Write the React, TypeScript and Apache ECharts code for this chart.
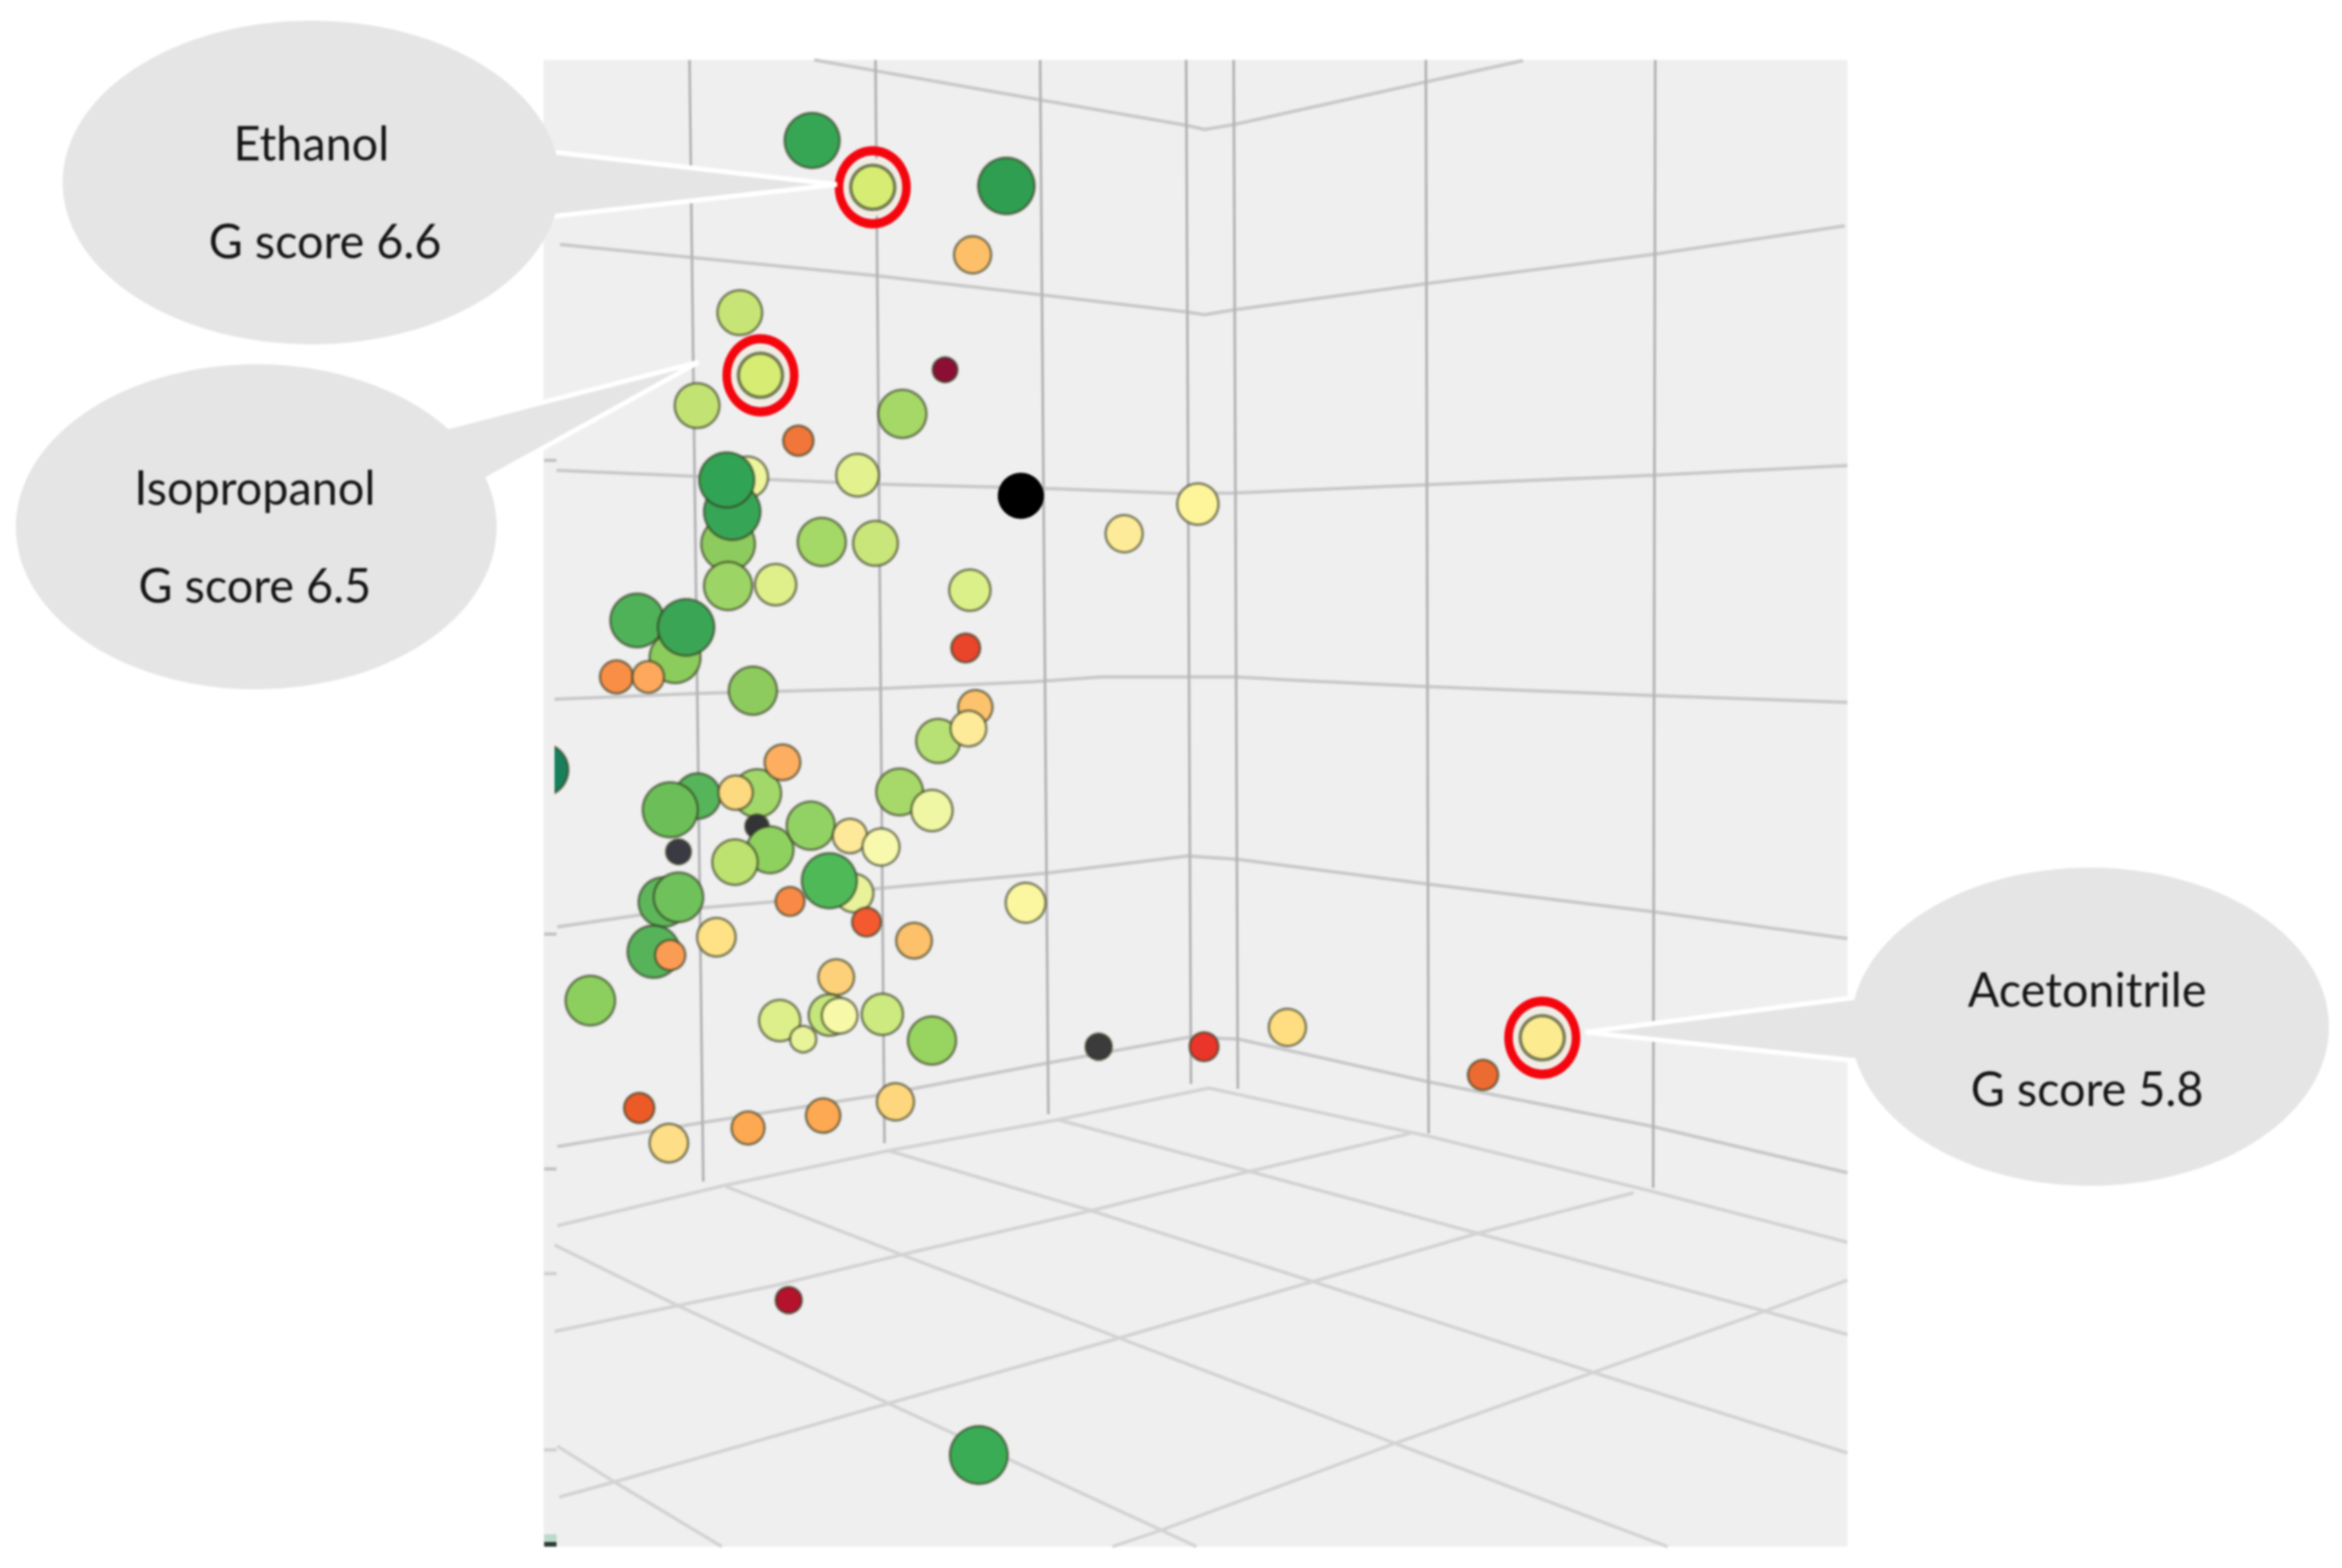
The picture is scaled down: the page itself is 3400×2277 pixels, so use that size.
import React, { useEffect, useRef } from "react";
import * as echarts from "echarts";

// Axis ranges (the picture has no printed scale, so readings are in picture units)
const xRange = [789, 2682];
const yRange = [87, 2246];

// Compounds, back to front
const pointX = [787, 1179, 1461, 1412, 1074, 1372, 1012, 1310, 1159, 1245, 1085, 1057, 1063, 1055, 1057, 1126, 1193, 1271, 1482, 1632, 1739, 1408, 980, 925, 996, 895, 941, 1402, 1093, 1416, 1362, 1406, 1013, 973, 1099, 1068, 1136, 1099, 985, 1118, 1067, 1177, 1234, 1279, 1306, 1353, 1240, 1204, 1258, 1147, 1489, 963, 985, 949, 973, 1040, 1327, 1214, 1132, 1204, 1166, 1219, 1281, 1353, 857, 1595, 1748, 928, 971, 1086, 1195, 1300, 1145, 1421, 1869, 2153];
const pointY = [1118, 204, 270, 370, 454, 537, 589, 601, 640, 690, 693, 790, 743, 697, 851, 849, 787, 789, 720, 775, 732, 857, 955, 901, 911, 983, 983, 941, 1003, 1027, 1076, 1058, 1156, 1176, 1152, 1151, 1107, 1200, 1237, 1234, 1252, 1199, 1214, 1230, 1150, 1177, 1297, 1279, 1339, 1309, 1311, 1310, 1303, 1382, 1387, 1361, 1366, 1419, 1482, 1474, 1509, 1475, 1473, 1511, 1453, 1520, 1520, 1609, 1660, 1638, 1620, 1600, 1888, 2113, 1492, 1561];
const pointSize = [76, 80, 82, 54, 65, 36, 65, 70, 44, 62, 60, 78, 82, 80, 70, 60, 70, 65, 63, 54, 60, 60, 74, 78, 82, 48, 46, 42, 70, 50, 64, 52, 66, 80, 70, 50, 52, 34, 36, 68, 66, 70, 50, 54, 68, 60, 56, 80, 42, 42, 58, 72, 72, 76, 44, 56, 52, 52, 60, 60, 38, 52, 60, 70, 72, 38, 42, 44, 56, 48, 50, 54, 38, 84, 54, 44];
const pointColor = ["#17805a", "#36a654", "#2f9e50", "#fdc068", "#c7e576", "#8b0f35", "#c2e373", "#a5d867", "#f0763a", "#e3f28f", "#eef59d", "#8ecb5e", "#37a556", "#31a354", "#9cd466", "#dff08a", "#a4d867", "#c9e67a", "#000000", "#fdeb99", "#fef59b", "#dcf08a", "#8bcc5c", "#4fb258", "#3aa555", "#f98e47", "#fda85c", "#e8452b", "#8ecb5e", "#fdc26e", "#b7e075", "#fdeb99", "#56b45a", "#6cbf58", "#a2d86a", "#fdd97f", "#fdae61", "#333338", "#3a3a45", "#8ed15f", "#bde26f", "#92d264", "#fee99a", "#f8f9ad", "#a6d96a", "#f0f7a4", "#e8f29a", "#4fb958", "#f4592f", "#f98a45", "#fbf7a0", "#5db75a", "#6fc15b", "#56b35a", "#fb9c55", "#fee285", "#fdc06b", "#fdd17a", "#dcef8a", "#c5e67d", "#e9f49a", "#f7f8a8", "#ccea80", "#98d460", "#8ccf5f", "#3b3b3b", "#e9352a", "#ec5a28", "#fede86", "#fda852", "#fda852", "#fdd67e", "#b5122d", "#3aac55", "#fede80", "#ec6b30"];

// The three circled solvents
const solventNames = ["Ethanol", "Isopropanol", "Acetonitrile"];
const solventScores = ["G score 6.6", "G score 6.5", "G score 5.8"];
const solventX = [1267, 1104, 2239];
const solventY = [272, 545, 1507];
const solventColor = ["#d6ec72", "#d6ec72", "#fdeb90"];

// Back-wall grid: verticals
const wallV1 = [[1001, 87], [1021, 1716]];
const wallV2 = [[1271, 87], [1284, 1660]];
const wallV3 = [[1510, 87], [1522, 1618]];
const wallV4 = [[1722, 87], [1729, 1574]];
const wallV5 = [[1791, 87], [1797, 1581]];
const wallV6 = [[2070, 87], [2074, 1646]];
const wallV7 = [[2403, 87], [2400, 1725]];

// Back-wall grid: horizontals that bend at the corner
const wallH1 = [[1182, 87], [1510, 145], [1722, 182], [1749, 188], [1791, 181], [2070, 119], [2211, 88]];
const wallH2 = [[813, 355], [1269, 400], [1510, 428], [1722, 453], [1749, 457], [1791, 450], [2070, 412], [2403, 369], [2678, 328]];
const wallH3 = [[808, 683], [1271, 703], [1510, 709], [1722, 717], [1791, 716], [2070, 704], [2403, 690], [2682, 676]];
const wallH4 = [[790, 1016], [1013, 1007], [1277, 1000], [1500, 990], [1600, 983], [1722, 983], [1795, 983], [1883, 988], [2070, 997], [2399, 1010], [2682, 1020]];
const wallH5 = [[809, 1346], [927, 1329], [1022, 1318], [1118, 1310], [1277, 1290], [1519, 1268], [1724, 1243], [1798, 1248], [2074, 1284], [2400, 1324], [2682, 1363]];
const wallH6 = [[809, 1665], [1021, 1630], [1284, 1589], [1519, 1544], [1727, 1506], [1798, 1509], [2074, 1571], [2400, 1636], [2682, 1703]];

// Floor grid
const floorEdgeL = [[809, 1780], [1045, 1723], [1290, 1671], [1536, 1626], [1755, 1580]];
const floorEdgeR = [[1755, 1580], [2074, 1650], [2394, 1729], [2682, 1804]];
const floorR1 = [[793, 1936], [984, 1896], [1124, 1867], [1309, 1822], [1584, 1758], [1814, 1701], [2047, 1646]];
const floorR2 = [[812, 2174], [892, 2152], [1290, 2038], [1625, 1943], [1906, 1861], [2145, 1791], [2372, 1732]];
const floorR3 = [[1615, 2246], [1686, 2222], [2025, 2096], [2313, 1993], [2562, 1904], [2682, 1859]];
const floorF1 = [[1536, 1626], [1814, 1701], [2145, 1791], [2562, 1904], [2682, 1938]];
const floorF2 = [[1290, 1671], [1584, 1758], [1906, 1861], [2313, 1993], [2682, 2110]];
const floorF3 = [[1054, 1723], [1309, 1822], [1625, 1943], [2025, 2096], [2421, 2246]];
const floorF4 = [[793, 1802], [984, 1896], [1290, 2038], [1686, 2222], [1737, 2246]];
const floorF5 = [[809, 2100], [892, 2152], [1048, 2246]];

const wallVerticals = [wallV1, wallV2, wallV3, wallV4, wallV5, wallV6, wallV7];
const wallHorizontals = [wallH1, wallH2, wallH3, wallH4, wallH5, wallH6];
const floorLines = [floorEdgeL, floorEdgeR, floorR1, floorR2, floorR3, floorF1, floorF2, floorF3, floorF4, floorF5];

const lineSeries = (data: number[][], color: string, width: number) => ({
  type: "line",
  data,
  symbol: "none",
  silent: true,
  z: 1,
  clip: false,
  lineStyle: { color, width },
});

const callout = (cx: number, cy: number, rx: number, ry: number, tail: number[][]) => [
  { type: "polygon", z: 30, shape: { points: tail }, style: { fill: "#e5e5e6", stroke: "#ffffff", lineWidth: 7 } },
  { type: "ellipse", z: 31, shape: { cx, cy, rx, ry }, style: { fill: "#e5e5e6" } },
];

const label = (text: string, x: number, y: number) => ({
  type: "text",
  z: 32,
  x,
  y,
  scaleX: 0.97,
  style: {
    text,
    x: 0,
    y: 0,
    fill: "#141414",
    font: '400 70px Lato, "Open Sans", sans-serif',
    align: "center",
    verticalAlign: "middle",
  },
});

const stripMark = (y: number, h: number, fill: string) => ({
  type: "rect",
  z: 21,
  shape: { x: 790, y, width: 18, height: h },
  style: { fill },
});

export default function App() {
  const ref = useRef<HTMLDivElement>(null);
  useEffect(() => {
    document.body.style.margin = "0";
    const chart = echarts.init(ref.current!, undefined, { renderer: "svg" });
    chart.setOption({
      animation: false,
      backgroundColor: "#ffffff",
      grid: {
        show: true,
        left: xRange[0],
        top: yRange[0],
        width: xRange[1] - xRange[0],
        height: yRange[1] - yRange[0],
        backgroundColor: "#efefef",
        borderWidth: 0,
      },
      xAxis: { type: "value", min: xRange[0], max: xRange[1], show: false },
      yAxis: { type: "value", min: yRange[0], max: yRange[1], inverse: true, show: false },
      series: [
        ...floorLines.map((d) => lineSeries(d, "#d3d3d4", 5)),
        ...wallHorizontals.map((d) => lineSeries(d, "#c9c9ca", 5)),
        ...wallVerticals.map((d) => lineSeries(d, "#b4b4b8", 4)),
        {
          type: "scatter",
          name: "Compounds",
          clip: false,
          silent: true,
          z: 3,
          data: pointX.map((x, i) => ({
            value: [x, pointY[i]],
            symbolSize: pointSize[i],
            itemStyle: {
              color: pointColor[i],
              opacity: 1,
              borderColor: pointColor[i] === "#000000" ? "#000000" : "rgba(50,55,30,0.55)",
              borderWidth: 4,
            },
          })),
        },
        {
          type: "scatter",
          name: "Halo",
          silent: true,
          z: 4,
          symbolSize: 84,
          itemStyle: { color: "#f1ece2", opacity: 1 },
          data: solventX.map((x, i) => [x, solventY[i]]),
        },
        {
          type: "scatter",
          name: "Solvents",
          silent: true,
          z: 5,
          symbolSize: 64,
          data: solventX.map((x, i) => ({
            value: [x, solventY[i]],
            itemStyle: { color: solventColor[i], opacity: 1, borderColor: "rgba(70,80,50,0.7)", borderWidth: 5 },
          })),
        },
        {
          type: "scatter",
          name: "Circled",
          silent: true,
          z: 6,
          symbolSize: [98, 106],
          itemStyle: { color: "rgba(0,0,0,0)", opacity: 1, borderColor: "#f4060e", borderWidth: 13 },
          data: solventX.map((x, i) => [x, solventY[i]]),
        },
      ],
      graphic: {
        elements: [
          { type: "rect", z: 20, shape: { x: 730, y: 1070, width: 59, height: 100 }, style: { fill: "#ffffff" } },
          { type: "rect", z: 20, shape: { x: 789, y: 600, width: 16, height: 1646 }, style: { fill: "#efefef" } },
          stripMark(666, 5, "#c4c4c4"),
          stripMark(1354, 5, "#c4c4c4"),
          stripMark(1695, 5, "#c4c4c4"),
          stripMark(1847, 5, "#d0d0d0"),
          stripMark(2103, 5, "#d0d0d0"),
          stripMark(2228, 10, "#b9dcc8"),
          stripMark(2239, 7, "#2b3a34"),
          ...callout(452, 265, 361, 235, [[760, 216], [1215, 268], [760, 319]]),
          ...callout(372, 765, 349, 236, [[630, 625], [1014, 526], [690, 705]]),
          ...callout(3034, 1491, 347, 231, [[2720, 1445], [2302, 1499], [2720, 1543]]),
          label(solventNames[0], 452, 206),
          label(solventScores[0], 472, 348),
          label(solventNames[1], 370, 706),
          label(solventScores[1], 370, 848),
          label(solventNames[2], 3030, 1435),
          label(solventScores[2], 3030, 1579),
        ],
      },
    });
    return () => chart.dispose();
  }, []);
  return <div ref={ref} style={{ width: 3400, height: 2277, filter: "blur(1.4px)" }} />;
}
